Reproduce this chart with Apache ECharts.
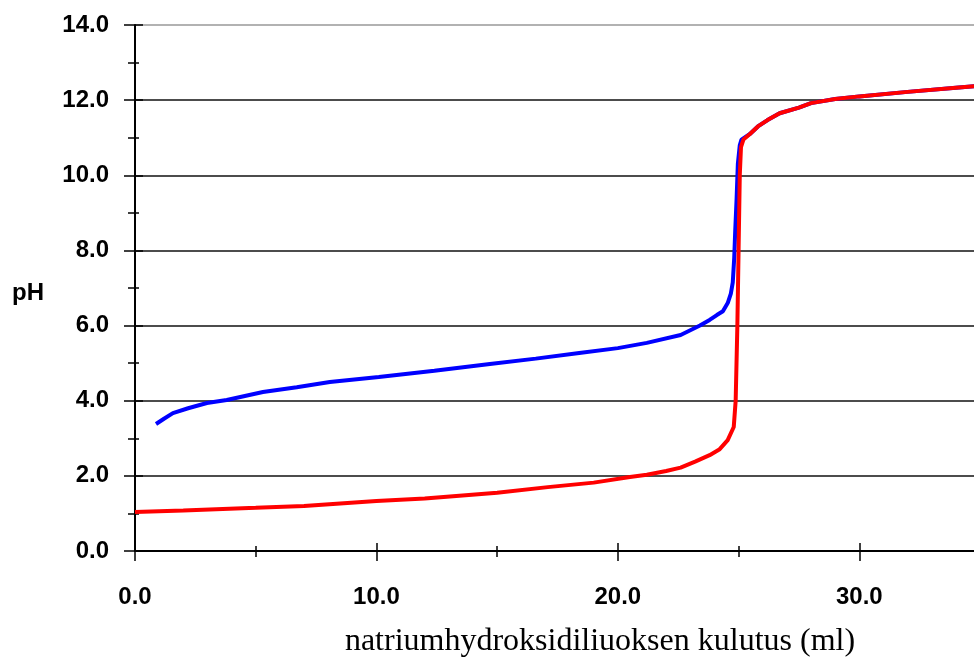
<!DOCTYPE html>
<html>
<head>
<meta charset="utf-8">
<script src="https://cdn.jsdelivr.net/npm/echarts@6/dist/echarts.min.js"></script>
<style>html,body{margin:0;padding:0;background:#fff;overflow:hidden;width:974px;height:660px;}#c{width:980px;height:660px;}</style>
</head>
<body>
<div id="c"></div>
<script>
// Strong acid (red) titration: NaOH volume (ml) vs pH
const strongVol = [0, 2, 5, 7, 10, 12, 15, 17.1, 19, 20.5, 21.2, 22, 22.6, 23.2, 23.8, 24.2, 24.55, 24.8, 24.88, 24.95, 25.0, 25.05, 25.1, 25.2, 25.47, 25.8, 26.2, 26.7, 27.5, 28, 29, 30, 32, 34, 35];
const strongPH  = [1.04, 1.08, 1.15, 1.2, 1.33, 1.4, 1.55, 1.7, 1.82, 1.97, 2.03, 2.13, 2.22, 2.38, 2.55, 2.7, 2.95, 3.3, 4.0, 6.0, 8.0, 10.0, 10.75, 10.95, 11.1, 11.3, 11.47, 11.65, 11.8, 11.92, 12.03, 12.1, 12.22, 12.33, 12.38];
// Weak acid (blue) titration
const weakVol = [0.87, 1.2, 1.57, 2.2, 2.98, 3.8, 5.3, 6.7, 8.07, 10.1, 12.4, 14.7, 16.6, 18.4, 20.0, 21.2, 22.6, 23.4, 23.8, 24.1, 24.35, 24.55, 24.68, 24.76, 24.82, 24.86, 24.92, 24.97, 25.05, 25.12];
const weakPH  = [3.38, 3.52, 3.67, 3.8, 3.94, 4.02, 4.23, 4.36, 4.5, 4.63, 4.8, 4.98, 5.12, 5.27, 5.4, 5.54, 5.75, 6.0, 6.15, 6.28, 6.38, 6.6, 6.85, 7.15, 7.8, 8.5, 9.4, 10.3, 10.8, 10.95];
const xTicks = [0, 10, 20, 30];
const yTicks = [0, 2, 4, 6, 8, 10, 12, 14];
const xTitle = 'natriumhydroksidiliuoksen kulutus (ml)';
const yTitle = 'pH';

const strongData = strongVol.map((v, i) => [v, strongPH[i]]);
const weakData = weakVol.map((v, i) => [v, weakPH[i]]);
// after the equivalence point the weak-acid curve coincides with the strong-acid one
strongVol.forEach((v, i) => { if (v > 25.12) weakData.push([v, strongPH[i]]); });

const fmt = v => Number(v).toFixed(1);
const labelFont = { fontFamily: 'Liberation Sans, Arial, sans-serif', fontWeight: 'bold', fontSize: 24, color: '#000' };
const gridColors = yTicks.map((t, i) => i === yTicks.length - 1 ? '#999' : '#111');

function xAx(interval, tickLen, inside, main) {
  return {
    type: 'value', min: 0, max: 35, interval: interval, position: 'bottom', offset: 0,
    axisLine: { show: main, lineStyle: { color: '#000', width: 2 } },
    axisTick: { show: true, inside: inside, length: tickLen, lineStyle: { color: '#000', width: 1.5 } },
    axisLabel: main ? Object.assign({ show: true, margin: 34, showMaxLabel: false,
      formatter: v => xTicks.indexOf(v) >= 0 ? fmt(v) : '' }, labelFont) : { show: false },
    splitLine: { show: false }
  };
}
function yAx(main, inside, tickLen, minorLen) {
  return {
    type: 'value', min: 0, max: 14, interval: 2, position: 'left', offset: 0,
    axisLine: { show: main, lineStyle: { color: '#000', width: 2 } },
    axisTick: { show: true, inside: inside, length: tickLen, lineStyle: { color: '#000', width: 1.5 } },
    minorTick: { show: true, splitNumber: 2, length: minorLen, lineStyle: { color: '#000', width: 1.5 } },
    axisLabel: main ? Object.assign({ show: true, margin: 26, formatter: v => fmt(v) }, labelFont) : { show: false },
    splitLine: main ? { show: true, lineStyle: { color: gridColors, width: 1.6 } } : { show: false }
  };
}

const chart = echarts.init(document.getElementById('c'), null, { renderer: 'canvas' });
chart.setOption({
  animation: false,
  backgroundColor: '#fff',
  grid: { left: 135, top: 25, right: 0, bottom: 109, containLabel: false },
  xAxis: [xAx(10, 10, false, true), xAx(10, 8, true, false), xAx(5, 6, false, false), xAx(5, 5, true, false)],
  yAxis: [yAx(true, false, 11, 7), yAx(false, true, 8, 4)],
  graphic: [
    { type: 'text', left: 12, top: 281, style: { text: yTitle, font: 'bold 24px "Liberation Sans", Arial, sans-serif', fill: '#000' } },
    { type: 'text', x: 600, y: 642, style: { text: xTitle, font: '32px "Liberation Serif", "Times New Roman", serif', fill: '#000', align: 'center', verticalAlign: 'middle' } }
  ],
  series: [
    { type: 'line', data: weakData, showSymbol: false, symbol: 'none', lineStyle: { color: '#0000ff', width: 4 }, z: 3, clip: true },
    { type: 'line', data: strongData, showSymbol: false, symbol: 'none', lineStyle: { color: '#ff0000', width: 4 }, z: 4, clip: true }
  ]
});
</script>
</body>
</html>
